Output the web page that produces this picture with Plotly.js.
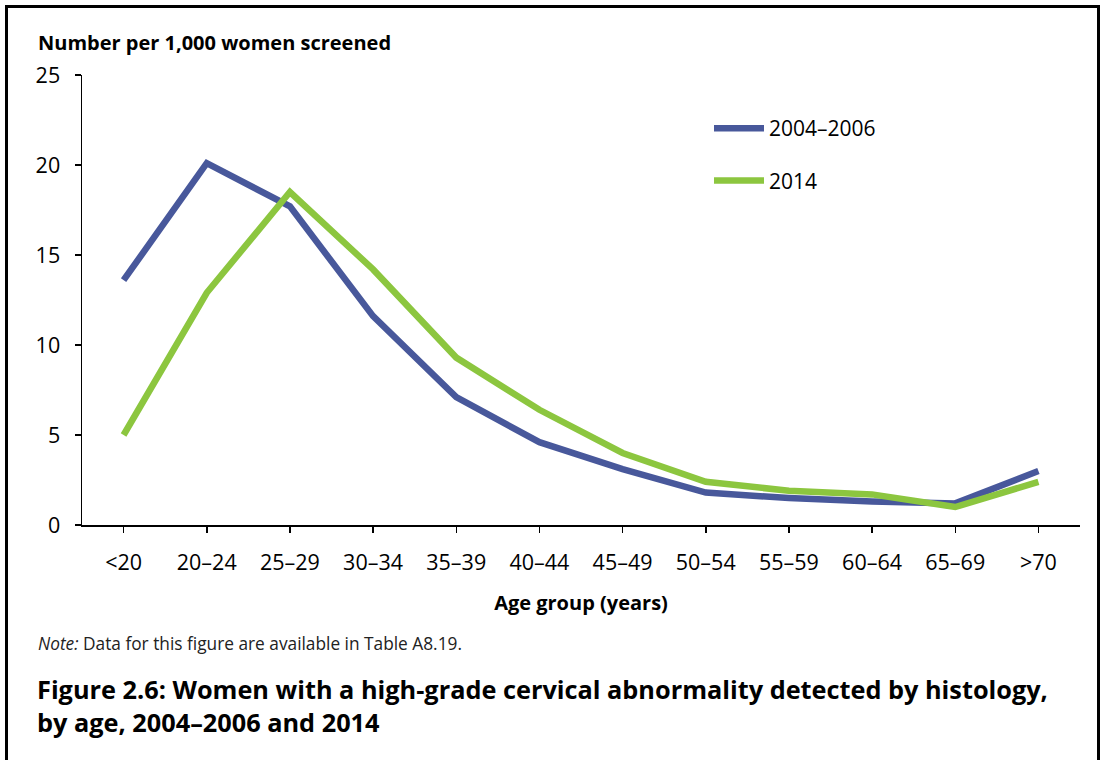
<!DOCTYPE html>
<html>
<head>
<meta charset="utf-8">
<script src="https://cdn.plot.ly/plotly-3.0.1.min.js"></script>
<style>html,body{margin:0;padding:0;background:#fff;}#chart{width:1101px;height:760px;}</style>
</head>
<body>
<div id="chart"></div>
<script>
const ageGroups = ["<20","20–24","25–29","30–34","35–39","40–44","45–49","50–54","55–59","60–64","65–69",">70"];
const values2004_2006 = [13.6, 20.1, 17.7, 11.6, 7.1, 4.6, 3.1, 1.8, 1.5, 1.3, 1.2, 3.0];
const values2014 = [5.0, 12.9, 18.5, 14.2, 9.3, 6.4, 4.0, 2.4, 1.9, 1.7, 1.0, 2.4];
const seriesNames = ["2004–2006", "2014"];
const yTicks = [0, 5, 10, 15, 20, 25];

const L = 82, R = 21, T = 75, B = 235, W = 1101, H = 760;
const pw = W - L - R, ph = H - T - B;
const px = x => (x - L) / pw;
const py = y => (H - B - y) / ph;

const FONT = "Open Sans, Noto Sans, sans-serif";

const traces = [
  {x: ageGroups, y: values2004_2006, name: seriesNames[0], type: "scatter", mode: "lines",
   line: {color: "#48589b", width: 6.5}, legendgroup: "a"},
  {x: ageGroups, y: values2014, name: seriesNames[1], type: "scatter", mode: "lines",
   line: {color: "#8cc63f", width: 6.5}, legendgroup: "b"}
];

const layout = {
  width: W, height: H,
  margin: {l: L, r: R, t: T, b: B},
  paper_bgcolor: "#fff", plot_bgcolor: "#fff",
  font: {family: FONT, color: "#000", size: 21},
  showlegend: true,
  legend: {x: px(709), y: py(108), xanchor: "left", yanchor: "top",
           font: {size: 21, family: FONT}, tracegroupgap: 22, itemwidth: 50,
           bgcolor: "rgba(0,0,0,0)"},
  xaxis: {type: "category", range: [-0.5, 11.5], showline: true, linecolor: "#000", linewidth: 1.5,
          ticks: "outside", ticklen: 6, tickcolor: "#000", tickwidth: 1.5, showgrid: false, zeroline: false,
          tickfont: {size: 21.5, family: FONT}, ticklabelstandoff: 12,
          title: {text: "<b>Age group (years)</b>", font: {size: 20, family: FONT}, standoff: 20}},
  yaxis: {range: [0, 25], tickvals: yTicks, showline: true, linecolor: "#000", linewidth: 1.5,
          ticks: "outside", ticklen: 6, tickcolor: "#000", tickwidth: 1.5, showgrid: false, zeroline: false,
          tickfont: {size: 21.5, family: FONT}, ticklabelstandoff: 10, fixedrange: true},
  annotations: [
    {text: "<b>Number per 1,000 women screened</b>", xref: "paper", yref: "paper",
     x: px(36), y: py(43), xanchor: "left", yanchor: "middle", showarrow: false,
     font: {size: 20, family: FONT}},
    {text: "<i>Note:</i> Data for this figure are available in Table A8.19.", xref: "paper", yref: "paper",
     x: px(36), y: py(643), xanchor: "left", yanchor: "middle", showarrow: false,
     font: {size: 17.3, family: FONT, color: "#222"}},
    {text: "<b>Figure 2.6: Women with a high-grade cervical abnormality detected by histology,</b>", xref: "paper", yref: "paper",
     x: px(35), y: py(689), xanchor: "left", yanchor: "middle", showarrow: false,
     font: {size: 25.3, family: FONT}},
    {text: "<b>by age, 2004–2006 and 2014</b>", xref: "paper", yref: "paper",
     x: px(35), y: py(722), xanchor: "left", yanchor: "middle", showarrow: false,
     font: {size: 25.3, family: FONT}}
  ],
  shapes: [
    {type: "rect", xref: "paper", yref: "paper", x0: px(6.5), x1: px(1098.5), y0: py(6.5), y1: py(790),
     line: {color: "#000", width: 3}, fillcolor: "rgba(0,0,0,0)", layer: "below"}
  ]
};

Plotly.newPlot("chart", traces, layout, {displayModeBar: false, staticPlot: true});
</script>
</body>
</html>
